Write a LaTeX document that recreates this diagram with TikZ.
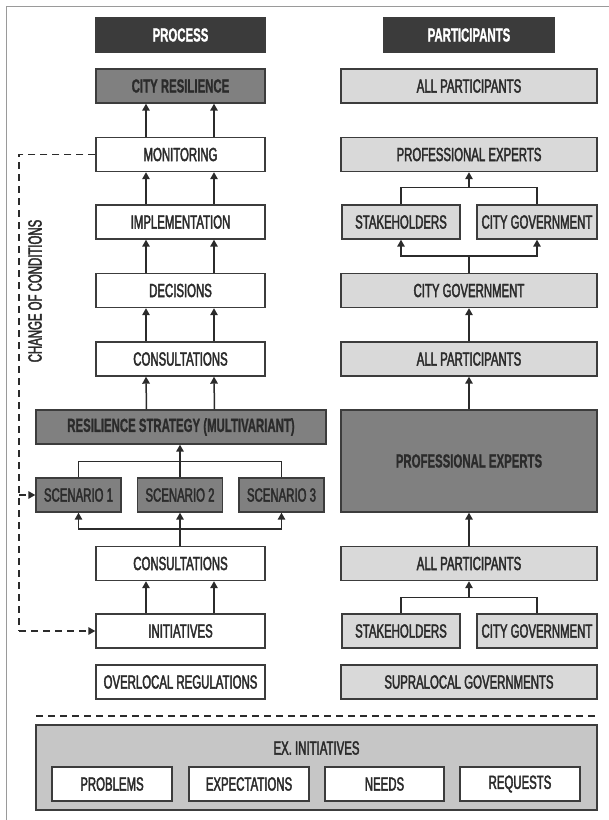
\documentclass[tikz,border=0pt]{standalone}
\usepackage{fontspec}
\newfontfamily\bodyfont{Liberation Sans}[FakeStretch=0.6, FakeBold=2.2]
\newfontfamily\heavyfont{Liberation Sans}[FakeStretch=0.6, UprightFont=*-Bold, FakeBold=1]
\usetikzlibrary{arrows.meta}

\definecolor{ink}{HTML}{2B2B2B}
\definecolor{edge}{HTML}{3C3C3C}
\definecolor{headfill}{HTML}{3B3B3B}
\definecolor{midfill}{HTML}{808080}
\definecolor{lightfill}{HTML}{D9D9D9}
\definecolor{exfill}{HTML}{C6C6C6}
\definecolor{framegray}{HTML}{9A9A9A}

\tikzset{
  txt/.style={font=\bodyfont\fontsize{19}{19}\selectfont},
  boldtxt/.style={font=\heavyfont\fontsize{19}{19}\selectfont},
  base/.style={draw=edge, line width=1.4pt, inner sep=0pt, text=ink,
    minimum height=34pt, txt},
  header/.style={base, fill=headfill, text=white, minimum width=169pt, boldtxt},
  plain/.style={base, fill=white, minimum width=169pt},
  midbox/.style={base, fill=midfill, boldtxt},
  scenbox/.style={base, fill=midfill, minimum width=85pt},
  partbox/.style={base, fill=lightfill, minimum width=256pt},
  halfbox/.style={base, fill=lightfill, minimum width=119pt},
  exbox/.style={base, fill=white, minimum width=120pt},
  link/.style={draw=ink, line width=1.5pt},
  arr/.style={link, -{Triangle[length=7pt,width=7.5pt]}},
  feedback/.style={draw=ink, line width=1.4pt, dash pattern=on 7pt off 5pt},
}

\begin{document}
\begin{tikzpicture}[x=1pt, y=-1pt]
\useasboundingbox (0,0) rectangle (609,820);

% frame edges
\draw[framegray, line width=1pt] (6,820) -- (6,6) -- (609,6);

% column headers
\node[header] (hproc) at (180.5,35) {PROCESS};
\node[header, minimum width=170pt] (hpart) at (469,35) {PARTICIPANTS};

% process column
\node[midbox, minimum width=169pt] (cres) at (180.5,86) {CITY RESILIENCE};
\node[plain] (mon)  at (180.5,154.5) {MONITORING};
\node[plain] (impl) at (180.5,222) {IMPLEMENTATION};
\node[plain] (dec)  at (180.5,290.5) {DECISIONS};
\node[plain] (cons) at (180.5,359) {CONSULTATIONS};
\node[midbox, minimum width=290pt] (rs) at (181,427) {RESILIENCE STRATEGY (MULTIVARIANT)};
\node[scenbox] (sc1) at (78.5,495) {SCENARIO 1};
\node[scenbox] (sc2) at (180,495) {SCENARIO 2};
\node[scenbox] (sc3) at (281.5,495) {SCENARIO 3};
\node[plain] (consb) at (180.5,563.5) {CONSULTATIONS};
\node[plain] (init)  at (180.5,631) {INITIATIVES};
\node[plain] (over)  at (180.5,682) {OVERLOCAL REGULATIONS};

% twin arrows between stacked process steps
\foreach \lo/\hi in {mon/cres, impl/mon, dec/impl, cons/dec, rs/cons, init/consb}{
  \draw[arr] ([xshift=-34.5pt]\lo.north) -- ([xshift=-34.5pt]\hi.south);
  \draw[arr] ([xshift=33.5pt]\lo.north) -- ([xshift=33.5pt]\hi.south);
}

% scenarios merge into the strategy
\draw[link] (sc1.north) -- ++(0,-16) -| (sc3.north);
\draw[arr] (sc2.north) -- (sc2.north |- rs.south);
% consultations branch out to the scenarios
\draw[link] (consb.north -| sc2.north) -- ++(0,-17) coordinate (split);
\draw[arr] (split) -| (sc1.south);
\draw[arr] (split) -| (sc3.south);
\draw[arr] (split) -- (sc2.south);

% change of conditions feedback loop
\coordinate (fbtop) at (19,154.5);
\coordinate (fbbot) at (19,631);
\draw[feedback] (mon.west) -- (fbtop) -- (fbbot);
\draw[feedback, -{Triangle[length=7pt,width=7.5pt]}] (fbbot) -- (init.west);
\draw[feedback, -{Triangle[length=7pt,width=7.5pt]}] (19,495) -- (sc1.west);
\node[rotate=90, text=ink, txt] (chg) at (35,291) {CHANGE OF CONDITIONS};

% participants column
\node[partbox] (pall1) at (469,86) {ALL PARTICIPANTS};
\node[partbox] (pexp1) at (469,154.5) {PROFESSIONAL EXPERTS};
\node[halfbox, minimum width=118pt] (pst1) at (401,222) {STAKEHOLDERS};
\node[halfbox, minimum width=120pt] (pcg1) at (537,222) {CITY GOVERNMENT};
\node[partbox] (pcg2) at (469,290.5) {CITY GOVERNMENT};
\node[partbox] (pall2) at (469,359) {ALL PARTICIPANTS};
\node[partbox, fill=midfill, minimum height=102pt, boldtxt] (pexp2) at (469,461) {PROFESSIONAL EXPERTS};
\node[partbox] (pall3) at (469,563.5) {ALL PARTICIPANTS};
\node[halfbox, minimum width=118pt] (pst2) at (401,631) {STAKEHOLDERS};
\node[halfbox, minimum width=120pt] (pcg3) at (537,631) {CITY GOVERNMENT};
\node[partbox] (psup) at (469,682) {SUPRALOCAL GOVERNMENTS};

% stakeholders and city government feed the experts
\draw[link] (pst1.north) -- ++(0,-17) -| (pcg1.north);
\draw[arr] (pst1.north -| pexp1.south) ++(0,-17) -- (pexp1.south);
% city government consults both groups
\draw[link] (pcg2.north) -- ++(0,-17) coordinate (psplit);
\draw[arr] (psplit) -| (pst1.south);
\draw[arr] (psplit) -| (pcg1.south);
% single-line chain
\draw[arr] (pall2.north) -- (pcg2.south);
\draw[arr] (pexp2.north) -- (pall2.south);
\draw[arr] (pall3.north) -- (pexp2.south);
% lower pair merges into all participants
\draw[link] (pst2.north) -- ++(0,-16) -| (pcg3.north);
\draw[arr] (pst2.north -| pall3.south) ++(0,-16) -- (pall3.south);

% separator and the initiatives panel
\draw[feedback] (36,716) -- (597,716);
\node[base, fill=exfill, minimum width=561pt, minimum height=85pt] (expanel) at (316.5,767.5) {};
\node[text=ink, txt] (extitle) at (316.5,748) {EX. INITIATIVES};
\node[exbox] (prob) at (112,784) {PROBLEMS};
\node[exbox] (expt) at (249,784) {EXPECTATIONS};
\node[exbox, minimum width=119pt] (need) at (384.5,784) {NEEDS};
\node[exbox] (reqs) at (520,784) {REQUESTS};
\end{tikzpicture}
\end{document}
